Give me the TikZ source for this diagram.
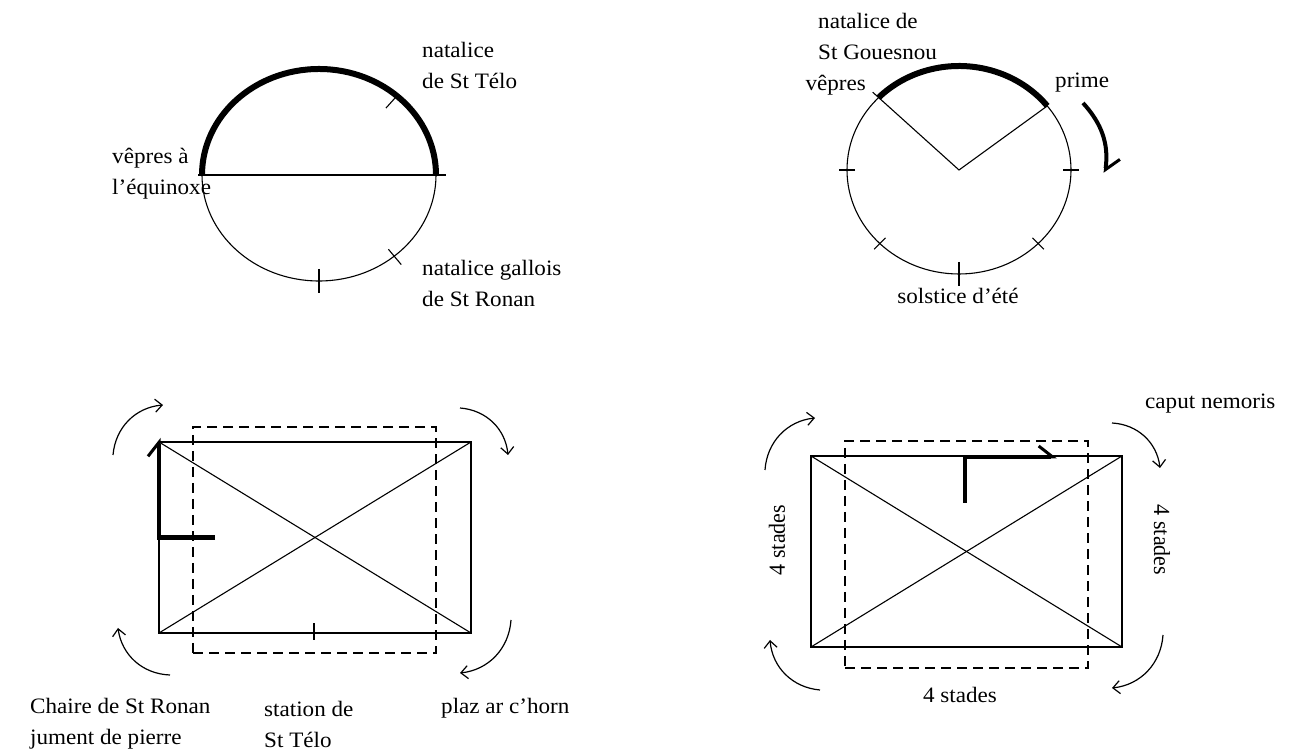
\documentclass[tikz,border=0pt]{standalone}
\usepackage{fontspec}
\setmainfont{Liberation Serif}
\usepackage{tikz}
\usetikzlibrary{arrows.meta,positioning,calc,shapes.geometric}
\tikzset{
  lbl/.style={align=left, inner sep=0pt, font=\fontsize{22}{31}\selectfont, xscale=1.05},
  ring/.style={draw, ellipse, inner sep=0pt, outer sep=0pt, line width=1.1pt},
  frame/.style={draw, rectangle, inner sep=0pt, outer sep=0pt, line width=1.2pt},
  dashframe/.style={frame, line width=1.3pt, dash pattern=on 10pt off 6pt},
  fine/.style={line width=1.1pt},
  heavy/.style={line width=6pt},
  bar/.style={line width=4.5pt, -{Straight Barb[harpoon, length=14pt, width=22pt, line width=3pt]}},
  turn/.style={line width=1.2pt, bend left=40, -{Straight Barb[length=7pt, width=13pt]}}
}
\begin{document}
\begin{tikzpicture}[x=1pt, y=1pt]
  \useasboundingbox (0,0) rectangle (1298,754);
  % equinox circle
  \node[ring, minimum width=234pt, minimum height=212pt] (c1) at (319,579) {};
  \draw[fine] ($(c1.west)+(-4,0)$) -- ($(c1.east)+(10,0)$);
  \draw[fine] (c1.center) ++(48:100pt and 90pt) -- ++(48:16pt);
  \draw[heavy] (c1.west) arc[start angle=180, end angle=0, x radius=117pt, y radius=106pt];
  \draw[fine] (c1.center) ++(270:94pt and 94pt) -- ++(270:24pt);
  \draw[fine] (c1.center) ++(-50:108pt and 97pt) -- ++(-50:20pt);
  \node[lbl, anchor=west] (t1) at (422,689) {natalice\\de St Télo};
  \node[lbl, anchor=west] (t2) at (112,580) {vêpres à\\l'équinoxe};
  \node[lbl, anchor=west] (t3) at (422,471) {natalice gallois\\de St Ronan};
  % solstice circle
  \node[ring, minimum width=224pt, minimum height=208pt] (c2) at (959,584) {};
  \coordinate (vp) at ($(c2.center)+(136:112pt and 104pt)$);
  \coordinate (pr) at ($(c2.center)+(38:112pt and 104pt)$);
  \draw[heavy] (vp) arc[start angle=136, end angle=38, x radius=112pt, y radius=104pt];
  \draw[fine] ($(c2.center)+(136:120pt and 112pt)$) -- (c2.center) -- (pr);
  \foreach \a in {180,0,225,315}
    \draw[fine] (c2.center) ++(\a:104pt and 96pt) -- ++(\a:16pt);
  \draw[fine] (c2.center) ++(270:92pt and 92pt) -- ++(270:24pt);
  \coordinate (p1) at (1083,651);
  \coordinate (p2) at (1105,581);
  \draw[line width=4pt, bend left=25, -{Straight Barb[harpoon, length=12pt, width=26pt, line width=3pt]}] (p1) to (p2);
  \node[lbl, anchor=west] (t4) at (818,718) {natalice de\\St Gouesnou};
  \node[lbl, anchor=east] (t5) at (866,669) {vêpres};
  \node[lbl, anchor=west] (t6) at (1055,671) {prime};
  \node[lbl] (t7) at (958,458) {solstice d'été};
  % first enclosure
  \node[frame, minimum width=312pt, minimum height=191pt] (r1) at (315,216.5) {};
  \node[dashframe, minimum width=243pt, minimum height=226pt] (d1) at (314.5,214) {};
  \draw[fine] (r1.south west) -- (r1.north east);
  \draw[fine] (r1.north west) -- (r1.south east);
  \draw[fine] (r1.south) ++(-1,-7) -- ++(0,17);
  \draw[bar] ($(r1.west)+(56,0)$) -- (r1.west) -- ($(r1.north west)+(0,4)$);
  \draw[turn] (113,299) to (163,349);
  \draw[turn] (460,346) to (508,299);
  \draw[turn] (511,134) to (460,81);
  \draw[turn] (170,79) to (118,126);
  \node[lbl, anchor=west] (t8) at (30,30) {Chaire de St Ronan\\jument de pierre};
  \node[lbl, anchor=west] (t9) at (264,30) {station de\\St Télo};
  \node[lbl, anchor=west] (t10) at (441,46) {plaz ar c'horn};
  % second enclosure
  \node[frame, minimum width=311pt, minimum height=191pt] (r2) at (966.5,202.5) {};
  \node[dashframe, minimum width=243pt, minimum height=227pt] (d2) at (966.5,199.5) {};
  \draw[fine] (r2.south west) -- (r2.north east);
  \draw[fine] (r2.north west) -- (r2.south east);
  \draw[bar] ($(r2.north)+(-1.5,-47)$) -- ($(r2.north)+(-1.5,-1)$) -- ++(92,0);
  \draw[turn] (765,284) to (815,336);
  \draw[turn] (1112,331) to (1160,286);
  \draw[turn] (1163,119) to (1112,66);
  \draw[turn] (820,64) to (770,114);
  \node[lbl, anchor=west] (t11) at (1145,350) {caput nemoris};
  \node[lbl, rotate=90] (t12) at (777,214) {4 stades};
  \node[lbl, rotate=-90] (t13) at (1162,214) {4 stades};
  \node[lbl] (t14) at (960,59) {4 stades};
\end{tikzpicture}
\end{document}
